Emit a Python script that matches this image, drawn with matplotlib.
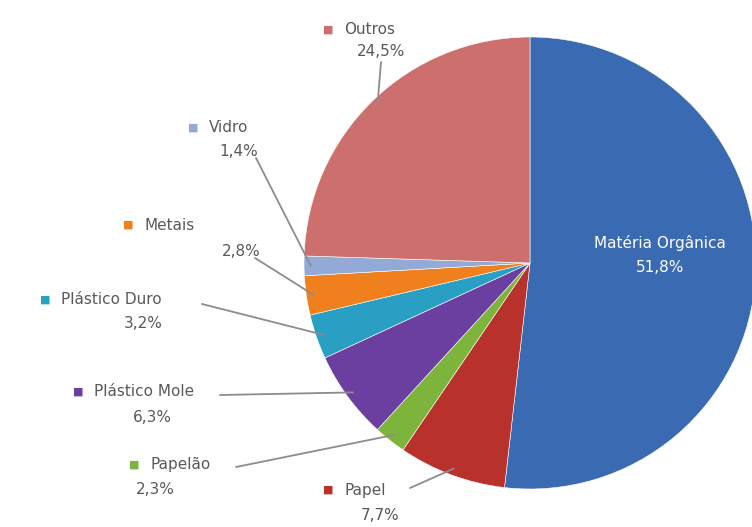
import numpy as np
import matplotlib.pyplot as plt

# === DATA ===
labels = ["Matéria Orgânica", "Papel", "Papelão", "Plástico Mole",
          "Plástico Duro", "Metais", "Vidro", "Outros"]
values = [51.8, 7.7, 2.3, 6.3, 3.2, 2.8, 1.4, 24.5]
pct_text = ["51,8%", "7,7%", "2,3%", "6,3%", "3,2%", "2,8%", "1,4%", "24,5%"]
colors = ["#3A6AB2", "#B8312B", "#7DB43C", "#6A3FA0",
          "#2A9FC4", "#F0801E", "#93A9D6", "#CC6F6D"]

# label layout (pixels, y from top): key x, name y, pct x, pct y, leader start
label_pos = {
    "Papel":         (328, 490, 380, 515, (410, 488)),
    "Papelão":       (134, 465, 155, 490, (236, 467)),
    "Plástico Mole": (78, 392, 152, 418, (220, 395)),
    "Plástico Duro": (45, 300, 143, 324, (202, 304)),
    "Metais":        (128, 225, 241, 252, (255, 258)),
    "Vidro":         (193, 128, 239, 151, (256, 158)),
    "Outros":        (328, 30, 381, 51, (381, 62)),
}

W, H = 752, 527
fig = plt.figure(figsize=(W / 100, H / 100), dpi=100)
ax = fig.add_axes([0, 0, 1, 1])
ax.set_aspect("equal")

cx, cy, r = 530, H - 263, 226
wedges, _ = ax.pie(values, colors=colors, startangle=90, counterclock=False,
                   center=(cx, cy), radius=r, frame=True,
                   wedgeprops=dict(linewidth=0.4, edgecolor="white"))
ax.set_xlim(0, W)
ax.set_ylim(0, H)
ax.axis("off")

txt_col = "#595959"
fs = 11
for w, name, pct, col in zip(wedges, labels, pct_text, colors):
    mid = np.deg2rad((w.theta1 + w.theta2) / 2)
    if name == "Matéria Orgânica":
        ax.text(660, H - 243, name, color="white", fontsize=fs,
                ha="center", va="center")
        ax.text(660, H - 267, pct, color="white", fontsize=fs,
                ha="center", va="center")
        continue
    kx, ny, px, py, (lx, ly) = label_pos[name]
    ax.text(kx, H - ny, "■", color=col, fontsize=8, ha="center", va="center")
    ax.text(kx + 16, H - ny, name, color=txt_col, fontsize=fs,
            ha="left", va="center")
    ax.text(px, H - py, pct, color=txt_col, fontsize=fs,
            ha="center", va="center")
    ex = cx + 0.97 * r * np.cos(mid)
    ey = cy + 0.97 * r * np.sin(mid)
    ax.plot([lx, ex], [H - ly, ey], color="#8C8C8C", lw=1.3,
            solid_capstyle="round")

plt.savefig("out.png", dpi=100)
plt.close()
